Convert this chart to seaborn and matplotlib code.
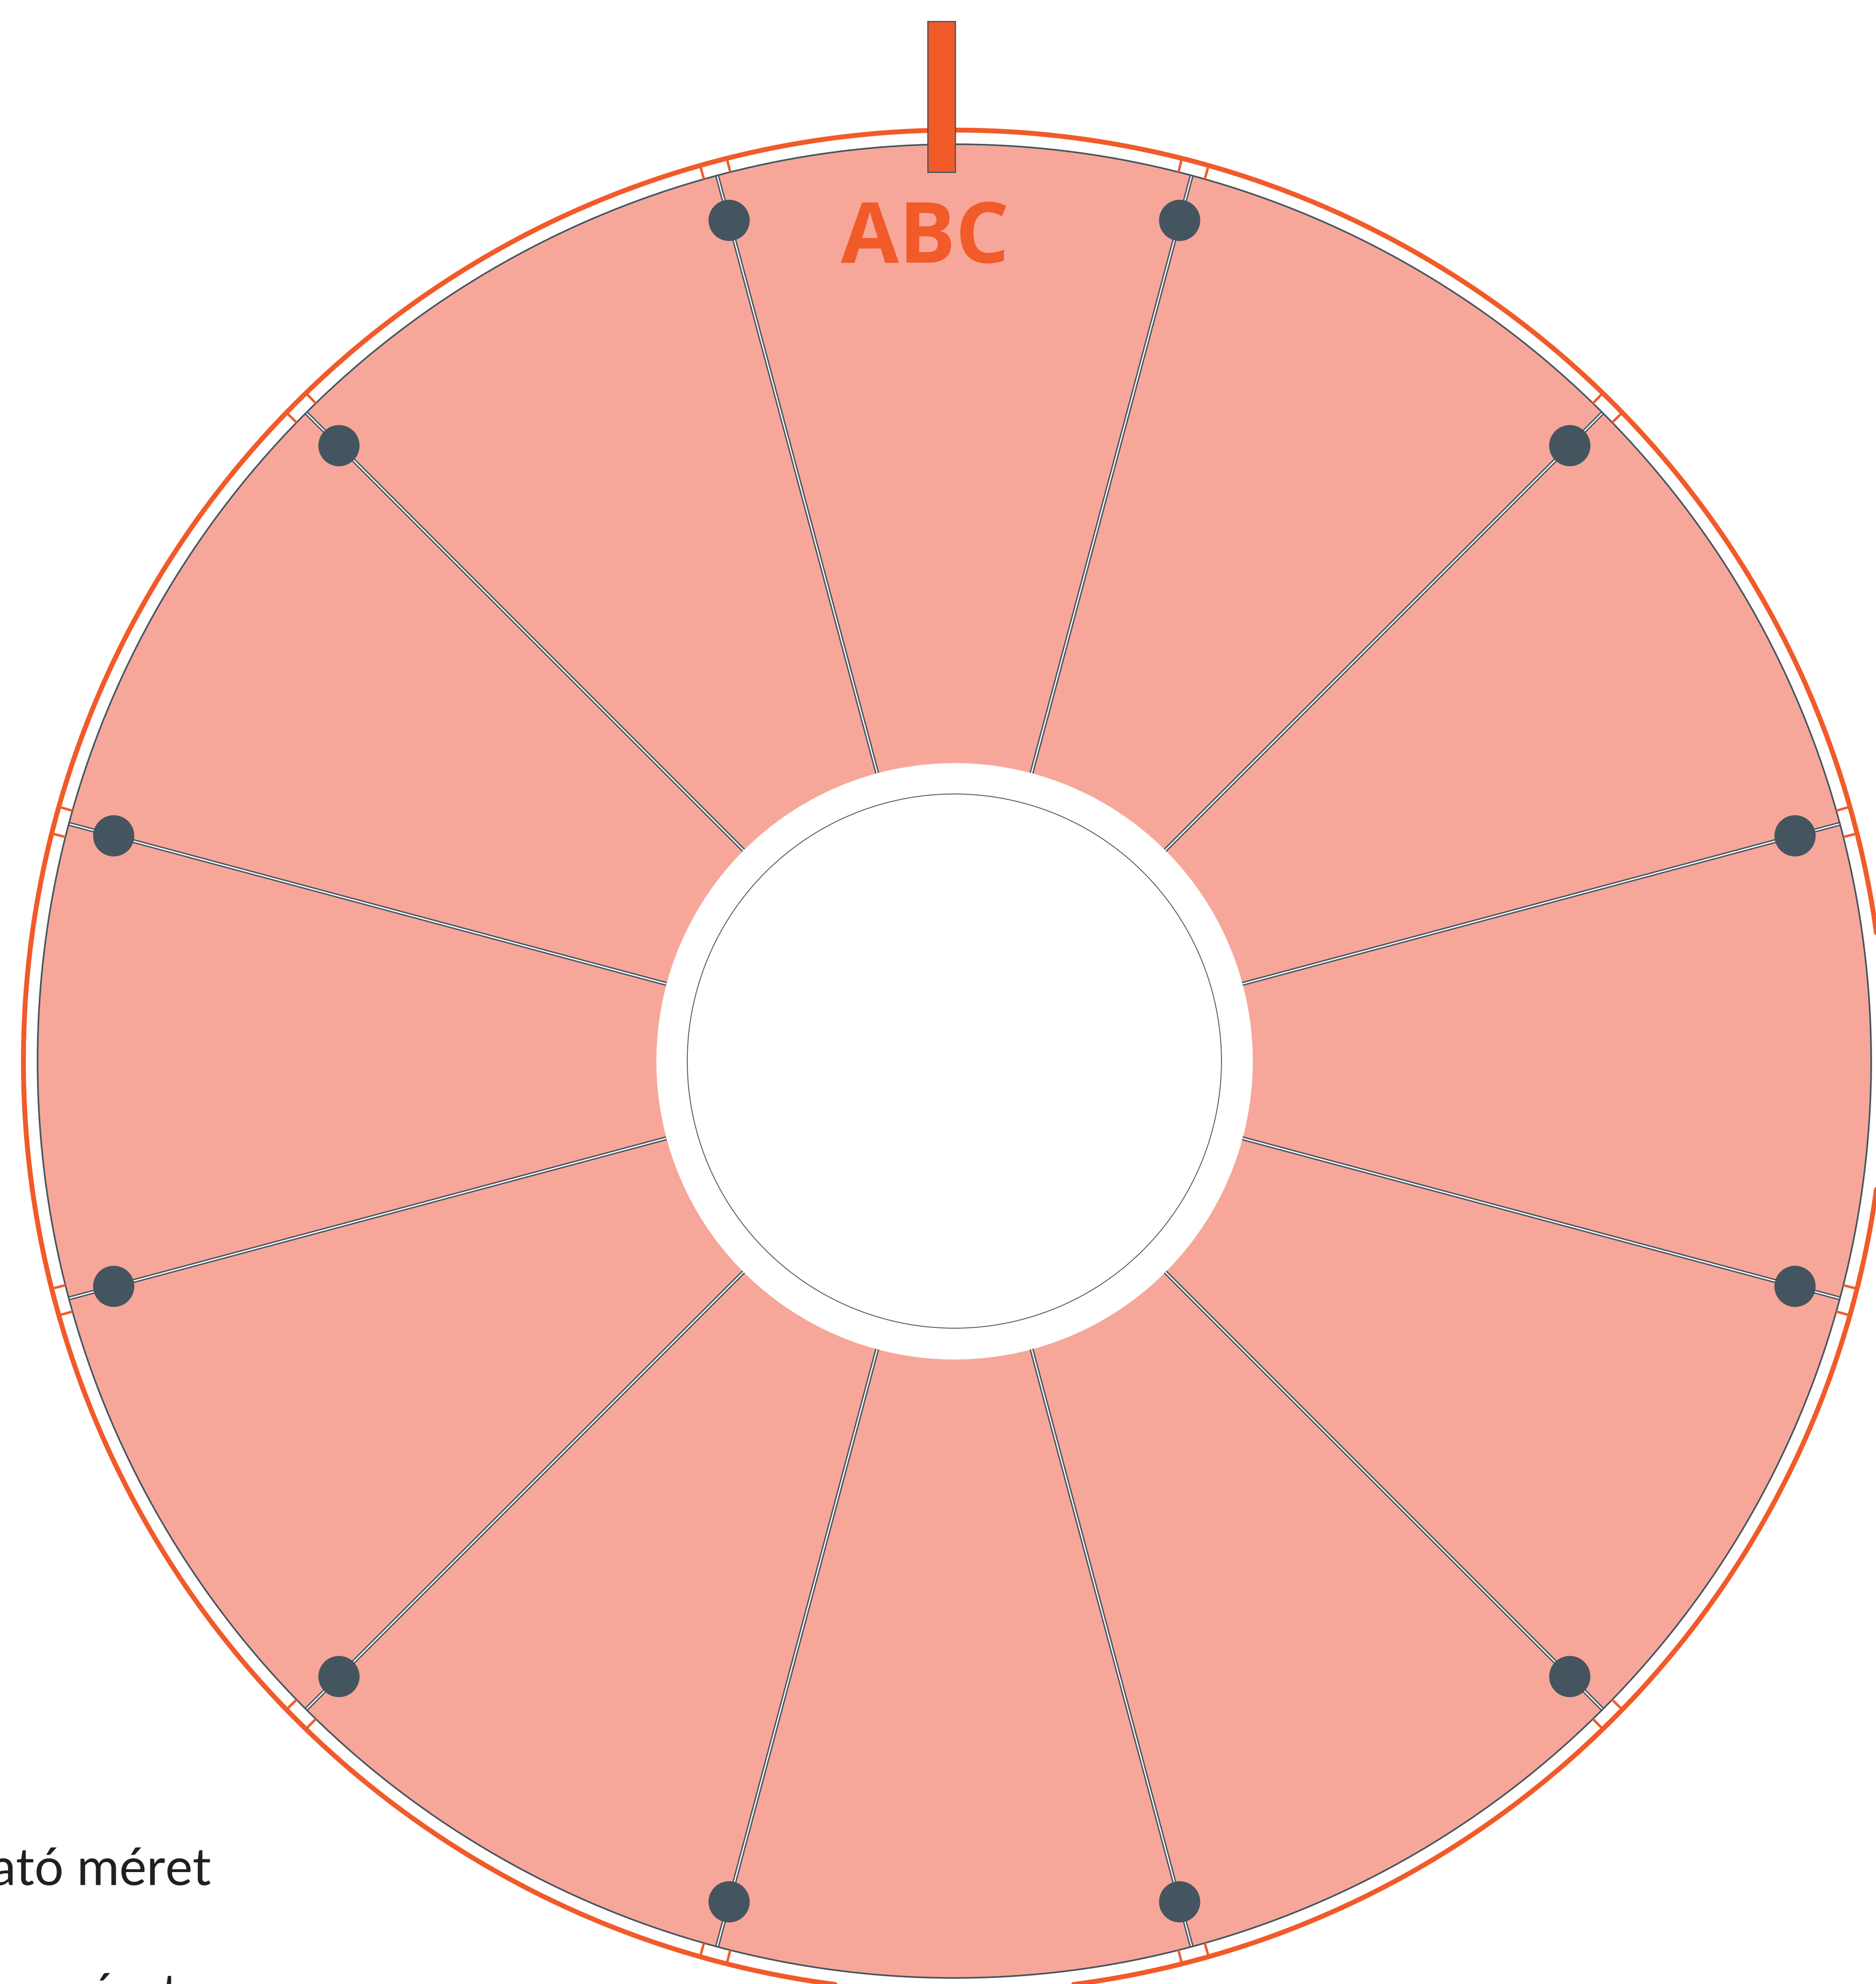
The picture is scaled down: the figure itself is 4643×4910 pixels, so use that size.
import numpy as np
import pandas as pd
import matplotlib.pyplot as plt
from matplotlib.patches import Rectangle
import seaborn as sns

# Wheel content: 12 equal segments, only the top one is labelled
segment_labels = ["ABC", "", "", "", "", "", "", "", "", "", "", ""]
segment_sizes = [1, 1, 1, 1, 1, 1, 1, 1, 1, 1, 1, 1]
caption_lines = ["Látható méret", "Teljes méret"]

PINK = "#F6A79A"
ORANGE = "#F15A29"
SLATE = "#45555F"
INK = "#231F20"

W, H, DPI = 4643, 4910, 100
CX, CY = 2362, 2626          # wheel centre in pixels (from top-left)
R_MAX = 2620
R_HUB_LINE = 661
R_HUB = 738
R_DOT = 2154
R_DISC = 2269
R_RING = 2304
TICK_OFF = np.deg2rad(0.85)
PX = 72 / DPI                 # points per pixel

sns.set_theme(style="white")
fig = plt.figure(figsize=(W / DPI, H / DPI), dpi=DPI)
fig.patch.set_facecolor("white")

ax = fig.add_axes([(CX - R_MAX) / W, (H - CY - R_MAX) / H,
                   2 * R_MAX / W, 2 * R_MAX / H], projection="polar")
ax.set_theta_zero_location("N")
ax.set_theta_direction(-1)

sizes = np.array(segment_sizes, dtype=float)
widths = sizes / sizes.sum() * 2 * np.pi
edges = np.concatenate([[0], np.cumsum(widths)]) - widths[0] / 2
centers = edges[:-1] + widths / 2
spokes = edges[:-1]
ring = np.linspace(0, 2 * np.pi, 1441)

# pink segments
ax.bar(centers, R_DISC, width=widths, bottom=0, color=PINK,
       edgecolor=PINK, linewidth=1, align="center", zorder=1)

# disc outline and outer orange ring with its tick pairs
ax.plot(ring, np.full_like(ring, R_DISC), color=SLATE, lw=4 * PX, zorder=2)
ax.plot(ring, np.full_like(ring, R_RING), color=ORANGE, lw=12 * PX, zorder=2)
for s in spokes:
    for d in (-TICK_OFF, TICK_OFF):
        ax.plot([s + d, s + d], [R_DISC, R_RING], color=ORANGE,
                lw=6 * PX, solid_capstyle="butt", zorder=2)

# hub
ax.fill_between(ring, 0, R_HUB, color="white", lw=0, zorder=3)
ax.plot(ring, np.full_like(ring, R_HUB_LINE), color="#4D4D4F", lw=2 * PX, zorder=5)

# double-line spokes
for s in spokes:
    ax.plot([s, s], [R_HUB, R_DISC], color=SLATE, lw=10 * PX,
            solid_capstyle="butt", zorder=4)
    ax.plot([s, s], [R_HUB, R_DISC - 2], color="white", lw=3.3 * PX,
            solid_capstyle="butt", zorder=4.1)

# pegs on the spokes
pegs = pd.DataFrame({"theta": spokes, "r": R_DOT})
sns.scatterplot(data=pegs, x="theta", y="r", ax=ax, s=(102 * PX) ** 2,
                color=SLATE, edgecolor="none", linewidth=0, zorder=6, legend=False)

# segment labels
label_shift = np.deg2rad(-2.1)
for c, lab in zip(centers, segment_labels):
    if lab:
        ax.text(c + label_shift, 1977, lab, ha="center", va="baseline",
                fontsize=150, fontweight="bold", color=ORANGE,
                family=["Open Sans", "DejaVu Sans"], zorder=7)

ax.set_ylim(0, R_MAX)
ax.set_axis_off()

# overlay in pixel coordinates for the pointer and captions
ov = fig.add_axes([0, 0, 1, 1])
ov.set_xlim(0, W)
ov.set_ylim(H, 0)
ov.set_axis_off()
ov.add_patch(Rectangle((2296, 53), 68, 373, facecolor=ORANGE,
                       edgecolor=SLATE, lw=3 * PX, zorder=8))

for txt, x, y in zip(caption_lines, [522, 445], [4665, 4975]):
    ov.text(x, y, txt, ha="right", va="baseline", fontsize=92,
            color=INK, family=["Lato", "DejaVu Sans"])

fig.savefig("out.png", dpi=DPI)
